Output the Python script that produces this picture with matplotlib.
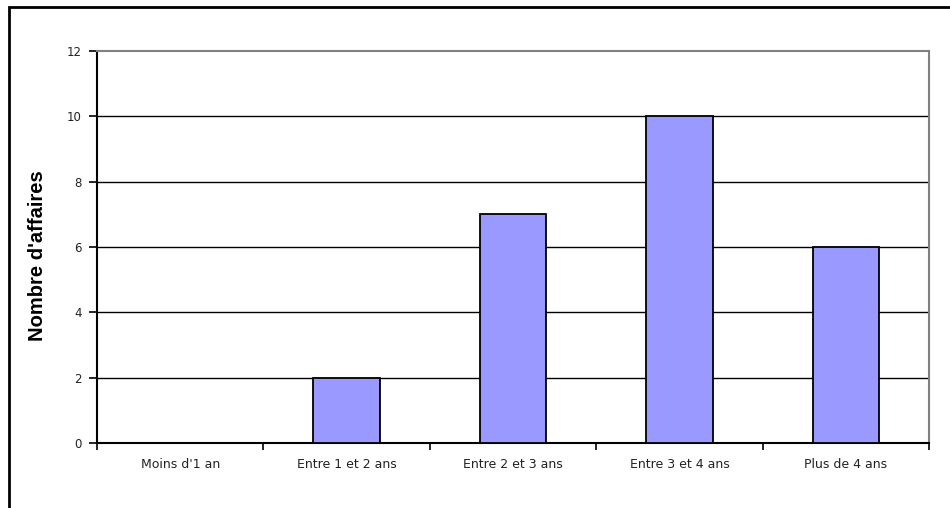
import matplotlib
matplotlib.use("Agg")
import matplotlib.pyplot as plt
from matplotlib.patches import Rectangle
import numpy as np

categories = ["Moins d'1 an", "Entre 1 et 2 ans", "Entre 2 et 3 ans", "Entre 3 et 4 ans", "Plus de 4 ans"]
values = [0, 2, 7, 10, 6]
y_ticks = [0, 2, 4, 6, 8, 10, 12]
y_label = "Nombre d'affaires"

plt.rcParams['font.family'] = ['Liberation Sans', 'DejaVu Sans']

fig = plt.figure(figsize=(9.5, 5.08), dpi=100)
ax = fig.add_axes([97/950, 65/508, (929-97)/950, (443-51)/508])

x = np.arange(len(categories)) + 0.5
ax.bar(x, values, width=0.4, color='#9999FF', edgecolor='black', linewidth=1.3, zorder=3)

ax.set_xlim(0, len(categories))
ax.set_ylim(0, 12)
ax.set_yticks(y_ticks)
ax.set_yticklabels([str(t) for t in y_ticks], fontsize=8.5, family=['DejaVu Sans'], color='#222222')
for t in y_ticks[1:-1]:
    ax.axhline(t, color='black', linewidth=1.0, zorder=1)

ax.set_xticks(np.arange(len(categories) + 1))
ax.set_xticklabels([])
ax.set_xticks(x, minor=True)
ax.set_xticklabels(categories, minor=True, fontsize=9, family=['DejaVu Sans'], color='#222222')
ax.tick_params(axis='x', which='minor', length=0, pad=11)
ax.tick_params(axis='x', which='major', length=5, width=1.2, direction='out')
ax.tick_params(axis='y', length=6, width=1.2, direction='out', pad=5)

for s in ['top', 'right']:
    ax.spines[s].set_color('#808080')
    ax.spines[s].set_linewidth(1.5)
for s in ['left', 'bottom']:
    ax.spines[s].set_color('black')
    ax.spines[s].set_linewidth(1.5)

fig.text(38/950, 1 - 256/508, y_label, rotation=90, ha='center', va='center',
         fontsize=14.5, fontweight='bold')

fig.patches.append(Rectangle((9/950, -0.1), 1.1, 1 - 7/508 + 0.1, transform=fig.transFigure,
                             fill=False, edgecolor='black', linewidth=2))

fig.savefig("out.png", dpi=100)
